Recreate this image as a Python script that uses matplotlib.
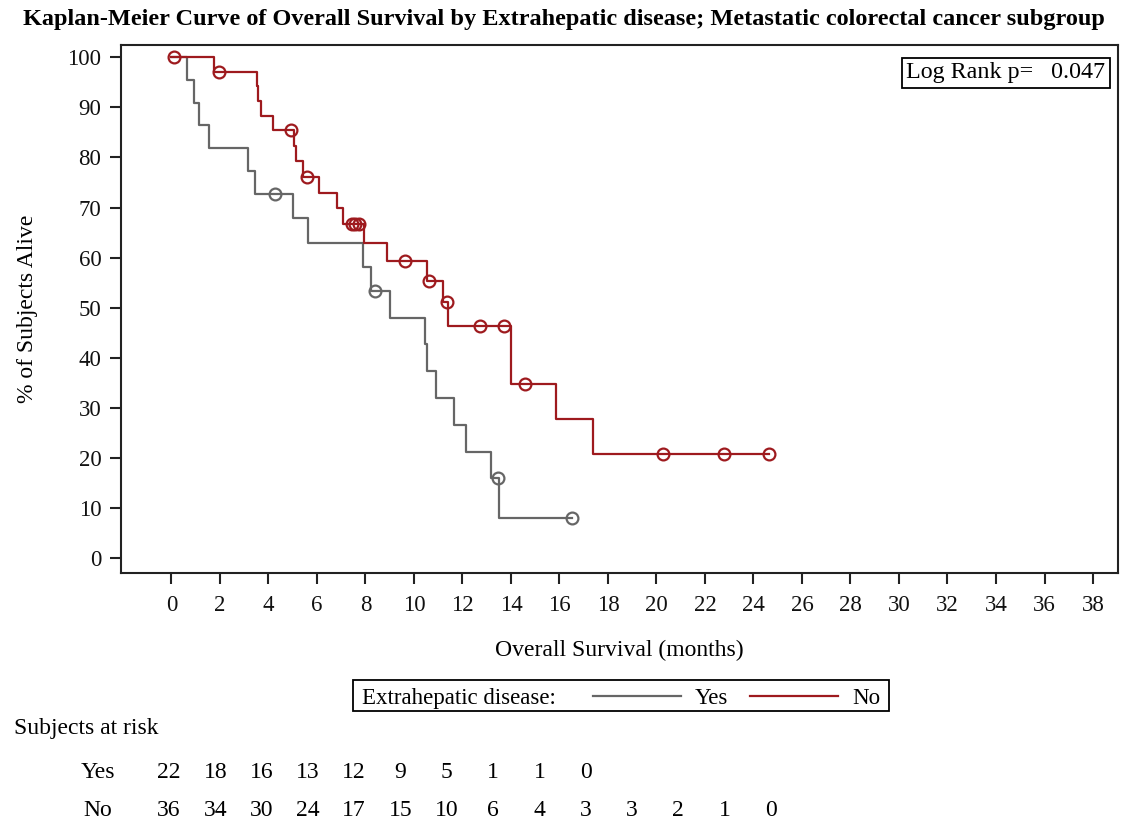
import numpy as np
import matplotlib
matplotlib.use("Agg")
import matplotlib.pyplot as plt
from matplotlib.lines import Line2D
from matplotlib.patches import Rectangle

plt.rcParams['font.family'] = ['Liberation Serif', 'DejaVu Serif']

# Kaplan-Meier step levels (% alive after each event) and censoring times
yes_event_times = [0.63, 0.93, 1.13, 1.56, 3.14, 3.44, 5.00, 5.64, 7.91, 8.21,
                   9.01, 10.47, 10.55, 10.89, 11.65, 12.14, 13.16, 13.52]
yes_surv = [95.5, 90.9, 86.4, 81.8, 77.3, 72.7, 67.9, 63.0, 58.2, 53.3,
            48.0, 42.7, 37.3, 32.0, 26.7, 21.3, 16.0, 8.0]
yes_censor_times = [4.27, 8.38, 13.45, 16.52]

no_event_times = [1.76, 3.51, 3.58, 3.68, 4.20, 5.05, 5.12, 5.41, 6.08, 6.81,
                  7.06, 7.95, 8.90, 10.52, 11.21, 11.39, 13.99, 15.86, 17.39]
no_surv = [97.1, 94.2, 91.3, 88.3, 85.4, 82.3, 79.3, 76.2, 73.0, 69.9,
           66.7, 63.0, 59.3, 55.3, 51.1, 46.4, 34.8, 27.9, 20.9]
no_censor_times = [0.10, 1.98, 4.93, 5.60, 7.43, 7.57, 7.73, 9.64, 10.63,
                   11.35, 12.72, 13.70, 14.58, 20.28, 22.78, 24.64]

# Numbers at risk every 2 months
yes_at_risk = [22, 18, 16, 13, 12, 9, 5, 1, 1, 0]
no_at_risk = [36, 34, 30, 24, 17, 15, 10, 6, 4, 3, 3, 2, 1, 0]

group_labels = ["Yes", "No"]
p_value = 0.047
x_ticks = list(range(0, 40, 2))
y_ticks = list(range(0, 101, 10))

GRAY = "#666666"
RED = "#9E1A1E"

W, H = 1128, 823
fig = plt.figure(figsize=(W / 100, H / 100), dpi=100)
ax = fig.add_axes([120.7 / W, 1 - 572.7 / H, (1118 - 120.7) / W, (572.7 - 45) / H])


def km_curve(ax, times, surv, censors, color):
    x = np.concatenate([[0.0], times])
    y = np.concatenate([[100.0], surv])
    end = max(max(censors), x[-1])
    xs = np.append(x, end)
    ys = np.append(y, y[-1])
    ax.step(xs, ys, where="post", color=color, lw=1.6, zorder=3)
    idx = np.searchsorted(x, censors, side="right") - 1
    ax.plot(censors, y[idx], linestyle="none", marker="o", ms=8.5,
            mfc="none", mec=color, mew=1.6, zorder=4)


km_curve(ax, yes_event_times, yes_surv, yes_censor_times, GRAY)
km_curve(ax, no_event_times, no_surv, no_censor_times, RED)

ax.set_xlim(-2.09, 39.03)
ax.set_ylim(-2.87, 102.45)
ax.set_xticks(x_ticks)
ax.set_yticks(y_ticks)
ax.tick_params(axis="both", direction="out", length=8, width=1.5,
               labelsize=16.5, color="#222222", labelcolor="#111111")
ax.tick_params(axis="x", pad=8)
ax.tick_params(axis="y", pad=6)
for s in ax.spines.values():
    s.set_linewidth(1.5)
    s.set_color("#222222")

ax.set_xlabel("Overall Survival (months)", fontsize=17, labelpad=17)
ax.set_ylabel("% of Subjects Alive", fontsize=17, labelpad=21)

ax.text(0.9875, 0.967, f"Log Rank p=   {p_value:.3f}", transform=ax.transAxes,
        ha="right", va="top", fontsize=17.3,
        bbox=dict(boxstyle="square,pad=0.2", fc="white", ec="black", lw=1.3))

fig.text(564 / W, 1 - 20 / H,
         "Kaplan-Meier Curve of Overall Survival by Extrahepatic disease; "
         "Metastatic colorectal cancer subgroup",
         ha="center", va="center", fontsize=17.5, fontweight="bold")


def fx(px):
    return px / W


def fy(py):
    return 1 - py / H


# Legend box below the plot
fig.add_artist(Rectangle((fx(352.5), fy(711)), fx(889) - fx(352.5), fy(680) - fy(711),
                         transform=fig.transFigure, fill=False, ec="black", lw=1.3))
fig.text(fx(362), fy(696), "Extrahepatic disease:", ha="left",
         va="center_baseline", fontsize=16.5)
fig.add_artist(Line2D([fx(593), fx(681)], [fy(695.5), fy(695.5)],
                      transform=fig.transFigure, color=GRAY, lw=1.6))
fig.text(fx(695), fy(696), group_labels[0], ha="left", va="center_baseline", fontsize=16.5)
fig.add_artist(Line2D([fx(750), fx(838)], [fy(695.5), fy(695.5)],
                      transform=fig.transFigure, color=RED, lw=1.6))
fig.text(fx(852), fy(696), group_labels[1], ha="left", va="center_baseline", fontsize=16.5)

# Subjects-at-risk table
fig.text(fx(14), fy(726), "Subjects at risk", ha="left", va="center_baseline", fontsize=17)
col0, col_step = 169.0, 46.3
for row_y, label, counts in [(770, group_labels[0], yes_at_risk),
                             (808, group_labels[1], no_at_risk)]:
    fig.text(fx(98), fy(row_y), label, ha="center", va="center_baseline", fontsize=17)
    for i, n in enumerate(counts):
        fig.text(fx(col0 + i * col_step), fy(row_y), str(n),
                 ha="center", va="center_baseline", fontsize=17)

fig.savefig("out.png", dpi=100)
